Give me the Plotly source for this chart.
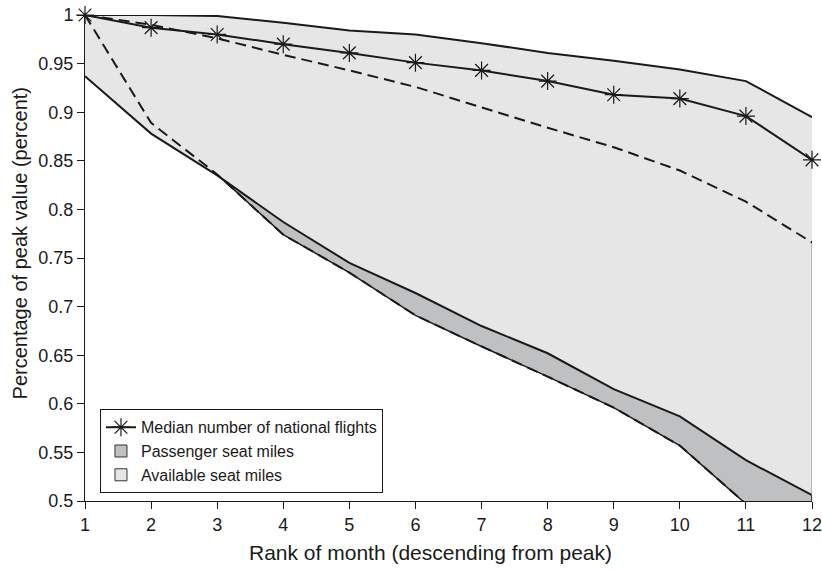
import plotly.graph_objects as go

ranks = list(range(1, 13))
tick_vals_y = [0.5, 0.55, 0.6, 0.65, 0.7, 0.75, 0.8, 0.85, 0.9, 0.95, 1.0]
tick_text_y = ["0.5", "0.55", "0.6", "0.65", "0.7", "0.75", "0.8", "0.85", "0.9", "0.95", "1"]

avail_upper = [1.0, 1.0, 0.999, 0.992, 0.984, 0.980, 0.971, 0.961, 0.953, 0.944, 0.932, 0.895]
avail_lower = [0.937, 0.878, 0.835, 0.787, 0.745, 0.714, 0.680, 0.652, 0.615, 0.587, 0.542, 0.506]
pax_upper = [1.0, 0.990, 0.976, 0.959, 0.943, 0.926, 0.905, 0.884, 0.864, 0.840, 0.808, 0.766]
pax_lower = [1.0, 0.889, 0.836, 0.774, 0.735, 0.691, 0.659, 0.628, 0.596, 0.557, 0.497, 0.44]
median_flights = [1.0, 0.987, 0.980, 0.970, 0.961, 0.951, 0.943, 0.932, 0.918, 0.914, 0.896, 0.851]

FONT = "Liberation Sans, Arial, Helvetica, sans-serif"
LIGHT = "#e6e6e6"
DARK = "#bfc0c1"
INK = "#1a1a1a"

fig = go.Figure()

# Passenger seat miles band
fig.add_trace(go.Scatter(
    x=ranks + ranks[::-1], y=pax_upper + pax_lower[::-1],
    fill="toself", fillcolor=DARK, mode="lines",
    line=dict(color=INK, width=1.5), showlegend=False, hoverinfo="skip",
))
# Available seat miles band
fig.add_trace(go.Scatter(
    x=ranks + ranks[::-1], y=avail_upper + avail_lower[::-1],
    fill="toself", fillcolor=LIGHT, mode="lines",
    line=dict(color=LIGHT, width=0), showlegend=False, hoverinfo="skip",
))
# band edge lines
fig.add_trace(go.Scatter(x=ranks, y=avail_upper, mode="lines",
                         line=dict(color=INK, width=2), showlegend=False))
fig.add_trace(go.Scatter(x=ranks, y=avail_lower, mode="lines",
                         line=dict(color=INK, width=2), showlegend=False))
fig.add_trace(go.Scatter(x=[ranks[-1], ranks[-1]], y=[pax_upper[-1], avail_lower[-1]], mode="lines",
                         line=dict(color="#8a8a8a", width=1), showlegend=False))
fig.add_trace(go.Scatter(x=ranks, y=pax_upper, mode="lines",
                         line=dict(color=INK, width=2, dash="11px,6px"), showlegend=False))
fig.add_trace(go.Scatter(x=ranks, y=pax_lower, mode="lines",
                         line=dict(color=INK, width=2, dash="11px,6px"), showlegend=False))
# Median number of national flights
fig.add_trace(go.Scatter(
    x=ranks, y=median_flights, mode="lines+markers",
    line=dict(color=INK, width=2),
    marker=dict(symbol="asterisk-open", size=15, line=dict(color=INK, width=1.2)),
    name="Median number of national flights", legendrank=1, cliponaxis=False,
))
# legend swatches for the bands
fig.add_trace(go.Bar(x=[None], y=[None], name="Passenger seat miles", legendrank=2,
                     marker=dict(color=DARK, line=dict(color="#333333", width=1))))
fig.add_trace(go.Bar(x=[None], y=[None], name="Available seat miles", legendrank=3,
                     marker=dict(color=LIGHT, line=dict(color="#333333", width=1))))

fig.update_layout(
    width=822, height=571,
    margin=dict(l=85, r=10, t=15, b=70),
    paper_bgcolor="white", plot_bgcolor="white",
    font=dict(family=FONT, color=INK),
    showlegend=True,
    legend=dict(
        x=0.0206, y=0.1887, xanchor="left", yanchor="top",
        bgcolor="white", bordercolor=INK, borderwidth=1,
        font=dict(size=16, family=FONT, color=INK),
        tracegroupgap=0, itemwidth=30,
    ),
    annotations=[
        dict(text="Rank of month (descending from peak)", xref="paper", yref="paper",
             x=0.4752, y=-0.105, xanchor="center", yanchor="middle", showarrow=False,
             font=dict(size=21, family=FONT, color=INK)),
        dict(text="Percentage of peak value (percent)", xref="paper", yref="paper",
             x=-0.0894, y=0.53, xanchor="center", yanchor="middle", showarrow=False,
             textangle=-90, font=dict(size=20, family=FONT, color=INK)),
    ],
)
fig.update_xaxes(
    range=[1, 12], tickvals=ranks, ticktext=[str(r) for r in ranks], automargin=False,
    ticklabeloverflow="allow",
    showgrid=False, zeroline=False, showline=True, linecolor=INK, linewidth=1,
    ticks="outside", ticklen=7, tickcolor=INK, tickfont=dict(size=18),
)
fig.update_yaxes(
    range=[0.5, 1], tickvals=tick_vals_y, ticktext=tick_text_y, automargin=False,
    ticklabeloverflow="allow",
    showgrid=False, zeroline=False, showline=True, linecolor=INK, linewidth=1,
    ticks="outside", ticklen=7, tickcolor=INK, tickfont=dict(size=18),
)

fig.write_html(
    "out.html",
    config={"displayModeBar": False},
    post_script="document.body.style.margin='0px';document.body.style.overflow='hidden';",
)
